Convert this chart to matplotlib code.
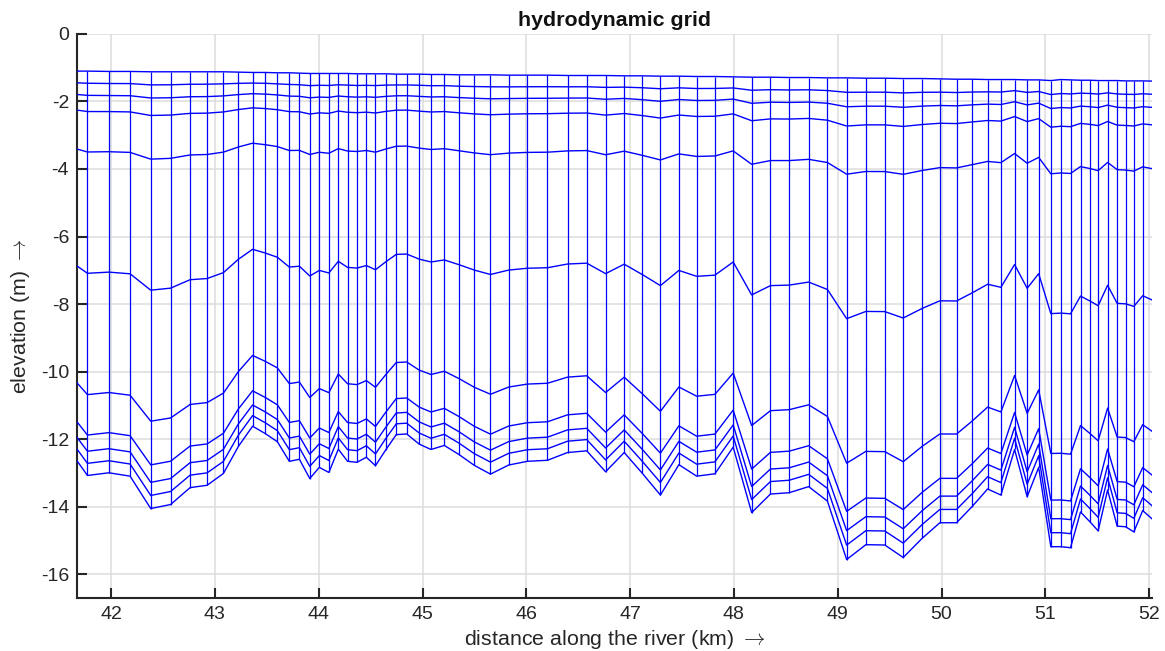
"""Sigma-layer hydrodynamic grid along the river section (km 41.7-52)."""
import numpy as np
import matplotlib
matplotlib.use("Agg")
import matplotlib.pyplot as plt

# node positions along the river (km)
dist_km = [
    41.576, 41.772, 41.979, 42.183, 42.382, 42.573, 42.761, 42.925, 43.082,
    43.226, 43.363, 43.486, 43.602, 43.717, 43.814, 43.914, 44.006, 44.098,
    44.189, 44.278, 44.369, 44.459, 44.547, 44.644, 44.747, 44.848, 44.968,
    45.082, 45.210, 45.352, 45.499, 45.655, 45.830, 46.011, 46.204, 46.397,
    46.582, 46.764, 46.943, 47.119, 47.292, 47.470, 47.641, 47.817, 47.993,
    48.171, 48.352, 48.533, 48.720, 48.901, 49.086, 49.271, 49.454, 49.631,
    49.814, 49.984, 50.145, 50.295, 50.444, 50.572, 50.704, 50.825, 50.936,
    51.053, 51.150, 51.243, 51.339, 51.429, 51.509, 51.600, 51.692, 51.773,
    51.853, 51.938, 52.100,
]

# water surface elevation at each node (m)
surface = [
    -1.10, -1.10, -1.11, -1.11, -1.12, -1.12, -1.12, -1.12, -1.12,
    -1.13, -1.14, -1.14, -1.15, -1.15, -1.16, -1.17, -1.17, -1.17,
    -1.17, -1.17, -1.18, -1.18, -1.18, -1.18, -1.19, -1.19, -1.19,
    -1.20, -1.20, -1.21, -1.21, -1.21, -1.22, -1.22, -1.22, -1.23,
    -1.23, -1.23, -1.24, -1.24, -1.25, -1.25, -1.26, -1.26, -1.27,
    -1.28, -1.28, -1.29, -1.29, -1.30, -1.30, -1.31, -1.31, -1.32,
    -1.32, -1.33, -1.34, -1.34, -1.35, -1.35, -1.35, -1.36, -1.36,
    -1.38, -1.35, -1.36, -1.37, -1.37, -1.38, -1.38, -1.38, -1.39,
    -1.39, -1.39, -1.40,
]

# bed elevation at each node (m)
bed = [
    -12.23, -13.08, -13.00, -13.10, -14.06, -13.94, -13.44, -13.37, -13.02,
    -12.22, -11.62, -11.84, -12.08, -12.66, -12.60, -13.17, -12.84, -12.99,
    -12.30, -12.66, -12.69, -12.54, -12.79, -12.33, -11.87, -11.85, -12.15,
    -12.31, -12.19, -12.46, -12.78, -13.04, -12.77, -12.66, -12.63, -12.40,
    -12.35, -12.97, -12.40, -13.02, -13.66, -12.76, -13.10, -13.03, -12.24,
    -14.18, -13.63, -13.59, -13.41, -13.84, -15.57, -15.13, -15.14, -15.51,
    -14.94, -14.48, -14.48, -14.00, -13.48, -13.66, -12.31, -13.71, -12.84,
    -15.19, -15.19, -15.22, -14.16, -14.45, -14.72, -13.51, -14.58, -14.60,
    -14.75, -14.12, -14.56,
]

# relative depth of the layer interfaces (0 = surface, 1 = bed)
sigma = [0.0, 0.03, 0.06, 0.10, 0.20, 0.50, 0.80, 0.90, 0.94, 0.97, 1.0]

x = np.array(dist_km)
zs = np.array(surface)
zb = np.array(bed)

FONT = ["Liberation Sans", "DejaVu Sans"]
plt.rcParams["font.family"] = FONT
plt.rcParams["axes.unicode_minus"] = False
plt.rcParams["mathtext.fontset"] = "cm"   # thin TeX-style arrow

fig = plt.figure(figsize=(11.65, 6.51), dpi=100)
ax = fig.add_axes([0.0664, 0.0814, 0.9222, 0.8664])

# vertical grid lines, one per node
ax.vlines(x, zb, zs, colors="blue", lw=0.9, zorder=3)
# layer interfaces
for s in sigma:
    ax.plot(x, zs + s * (zb - zs), color="blue", lw=1.0, zorder=3)

ax.set_xlim(41.675, 52.025)
ax.set_ylim(-16.71, 0)
ax.set_xticks(np.arange(42, 53, 1))
ax.set_yticks(np.arange(-16, 1, 2))

ax.grid(True, color="#dcdcdc", lw=1.1, zorder=0)
ax.set_axisbelow(True)
for side in ("top", "right"):
    ax.spines[side].set_visible(False)
for side in ("left", "bottom"):
    ax.spines[side].set_color("#262626")
    ax.spines[side].set_linewidth(1.5)
ax.tick_params(direction="in", length=7, width=1.5, color="#262626",
               labelcolor="#262626", labelsize=14, pad=6)

ax.set_title("hydrodynamic grid", fontsize=15.4, fontweight="bold",
             color="#111111", pad=6)
ax.set_xlabel(r"distance along the river (km) $\rightarrow$", fontsize=15.4,
              color="#262626", labelpad=3)
ax.set_ylabel(r"elevation (m) $\rightarrow$", fontsize=15.4, color="#262626",
              labelpad=6)

fig.savefig("out.png", dpi=100)
plt.close(fig)
